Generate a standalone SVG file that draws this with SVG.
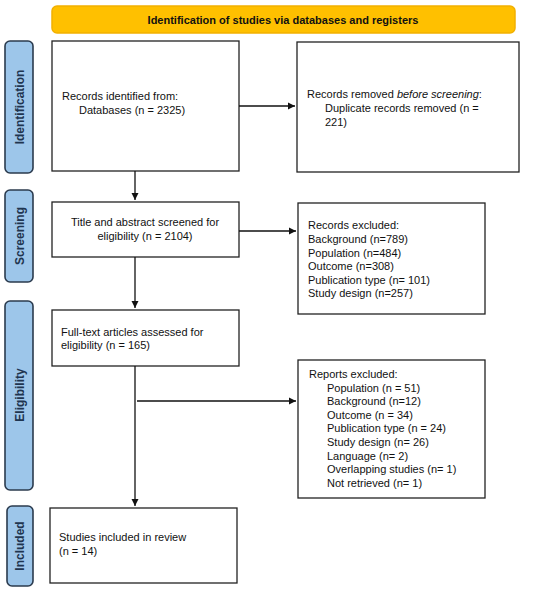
<svg xmlns="http://www.w3.org/2000/svg" width="550" height="590" viewBox="0 0 550 590">
<defs>
<style>
.box{fill:#fff;stroke:#222;stroke-width:1.3}
.tab{fill:#9dc6ea;stroke:#2b3b4e;stroke-width:1.6}
.tabt{font-family:"Liberation Sans",Arial,sans-serif;font-size:12px;font-weight:bold;fill:#1f3550;text-anchor:middle}
.t{font-family:"Liberation Sans",Arial,sans-serif;font-size:11px;fill:#111}
.c{text-anchor:middle}
.ln{stroke:#111;stroke-width:1.3;fill:none}
</style>
<marker id="ah" markerWidth="8" markerHeight="8" refX="7" refY="4" orient="auto" markerUnits="userSpaceOnUse">
<path d="M0,0.5 L7,4 L0,7.5 Z" fill="#111"/>
</marker>
</defs>
<rect width="550" height="590" fill="#fff"/>

<g id="banner">
<rect x="52" y="6" width="463" height="27" rx="5" fill="#ffc000" stroke="#f2b000" stroke-width="1.5"/>
<text x="283" y="23.5" class="t c" style="font-weight:bold">Identification of studies via databases and registers</text>
</g>

<g id="tab-identification">
<rect class="tab" x="5" y="41" width="28" height="132" rx="5"/>
<text class="tabt" transform="translate(23.5,107) rotate(-90)">Identification</text>
</g>
<g id="tab-screening">
<rect class="tab" x="5" y="190" width="28" height="92" rx="5"/>
<text class="tabt" transform="translate(23.5,236) rotate(-90)">Screening</text>
</g>
<g id="tab-eligibility">
<rect class="tab" x="5" y="301" width="28" height="189" rx="5"/>
<text class="tabt" transform="translate(23.5,395) rotate(-90)">Eligibility</text>
</g>
<g id="tab-included">
<rect class="tab" x="7" y="506" width="26" height="80" rx="5"/>
<text class="tabt" transform="translate(24,546) rotate(-90)">Included</text>
</g>

<g id="records-identified">
<rect class="box" x="52" y="41" width="187" height="130"/>
<text class="t" x="62" y="100">Records identified from:</text>
<text class="t" x="79" y="114">Databases (n = 2325)</text>
</g>

<g id="records-removed">
<rect class="box" x="297" y="42" width="222" height="130"/>
<text class="t" x="307" y="98">Records removed <tspan font-style="italic">before screening</tspan>:</text>
<text class="t" x="325" y="112">Duplicate records removed (n =</text>
<text class="t" x="325" y="126">221)</text>
</g>

<g id="title-abstract">
<rect class="box" x="52" y="202" width="187" height="55"/>
<text class="t c" x="145" y="226">Title and abstract screened for</text>
<text class="t c" x="145" y="240">eligibility (n = 2104)</text>
</g>

<g id="records-excluded">
<rect class="box" x="298" y="203" width="187" height="111"/>
<text class="t" x="308" y="229">Records excluded:</text>
<text class="t" x="308" y="243">Background (n=789)</text>
<text class="t" x="308" y="257">Population (n=484)</text>
<text class="t" x="308" y="270">Outcome (n=308)</text>
<text class="t" x="308" y="284">Publication type (n= 101)</text>
<text class="t" x="308" y="297">Study design (n=257)</text>
</g>

<g id="full-text">
<rect class="box" x="52" y="310" width="187" height="56"/>
<text class="t" x="61" y="336">Full-text articles assessed for</text>
<text class="t" x="61" y="349">eligibility (n = 165)</text>
</g>

<g id="reports-excluded">
<rect class="box" x="298" y="360" width="187" height="138"/>
<text class="t" x="309" y="378">Reports excluded:</text>
<text class="t" x="327" y="392">Population (n = 51)</text>
<text class="t" x="327" y="405">Background (n=12)</text>
<text class="t" x="327" y="419">Outcome (n = 34)</text>
<text class="t" x="327" y="432">Publication type (n = 24)</text>
<text class="t" x="327" y="446">Study design (n= 26)</text>
<text class="t" x="327" y="460">Language (n= 2)</text>
<text class="t" x="327" y="473">Overlapping studies (n= 1)</text>
<text class="t" x="327" y="487">Not retrieved (n= 1)</text>
</g>

<g id="studies-included">
<rect class="box" x="50" y="508" width="187" height="75"/>
<text class="t" x="59" y="541">Studies included in review</text>
<text class="t" x="59" y="555">(n = 14)</text>
</g>

<g id="connectors">
<line class="ln" x1="239" y1="106" x2="295" y2="106" marker-end="url(#ah)"/>
<line class="ln" x1="135" y1="171" x2="135" y2="200" marker-end="url(#ah)"/>
<line class="ln" x1="239" y1="231" x2="296" y2="231" marker-end="url(#ah)"/>
<line class="ln" x1="135" y1="257" x2="135" y2="308" marker-end="url(#ah)"/>
<line class="ln" x1="135" y1="366" x2="135" y2="506" marker-end="url(#ah)"/>
<line class="ln" x1="137" y1="401" x2="296" y2="401" marker-end="url(#ah)"/>
</g>
</svg>
